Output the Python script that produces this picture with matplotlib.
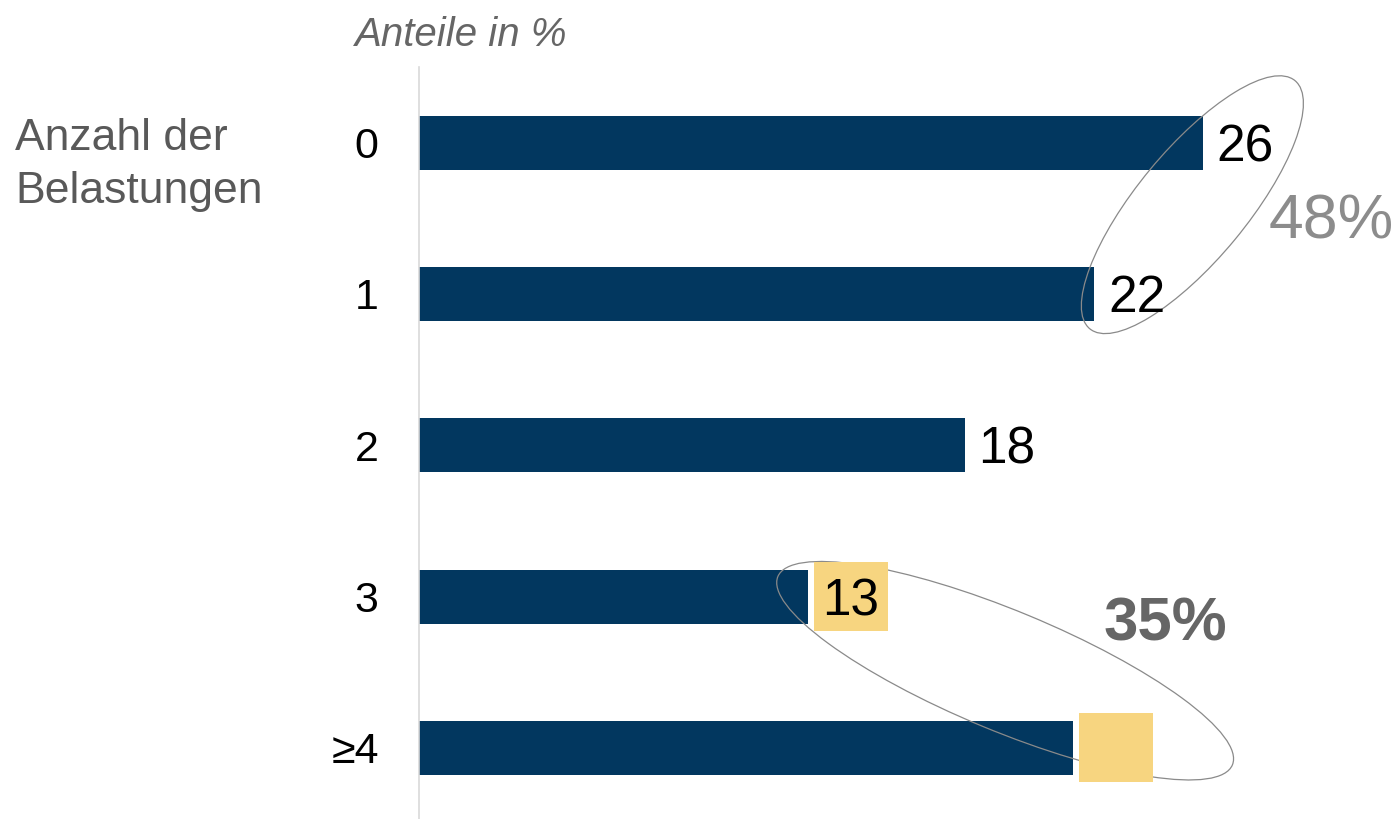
import matplotlib
matplotlib.use("Agg")
import matplotlib.pyplot as plt
from matplotlib.patches import Ellipse, Rectangle
from matplotlib.transforms import Affine2D, ScaledTranslation

plt.rcParams['font.family'] = ['Liberation Sans', 'DejaVu Sans']

categories = ["0", "1", "2", "3", "≥4"]
values = [26, 22.4, 18.1, 12.9, 21.7]
value_labels = ["26", "22", "18", "13", ""]
highlight = [False, False, False, True, True]

bar_color = "#02375F"
box_color = "#F7D580"

fig = plt.figure(figsize=(13.98, 8.19), dpi=100)
ax = fig.add_axes([419 / 1398, 0, 979 / 1398, 1 - 67 / 819])

y = list(range(len(categories)))
ax.barh(y, values, height=0.357, color=bar_color, zorder=2)
ax.set_xlim(0, 32.47)
ax.set_ylim(4.47, -0.5)
ax.set_yticks(y)
ax.set_yticklabels(categories, fontsize=31)
ax.tick_params(axis='y', length=0, pad=29)
ax.set_xticks([])
for s in ["top", "right", "bottom"]:
    ax.spines[s].set_visible(False)
ax.spines["left"].set_color("#d9d9d9")
ax.spines["left"].set_linewidth(1.2)


def px_at(cx, cy):
    # transform: pixel units, origin at a data position
    return Affine2D().scale(1 / 100.) + fig.dpi_scale_trans + \
        ScaledTranslation(cx, cy, ax.transData)


for yi, v, lab, hl in zip(y, values, value_labels, highlight):
    if hl:
        ax.add_patch(Rectangle((6, -34.5), 74, 69, transform=px_at(v, yi),
                               fc=box_color, ec="none", zorder=4))
    if lab:
        ax.annotate(lab, (v, yi), xytext=(10, -3.6), textcoords="offset points",
                    ha="left", va="center", fontsize=37, color="black", zorder=5)


def add_ellipse(cx, cy, a, b, angle):
    e = Ellipse((0, 0), 2 * a, 2 * b, angle=angle, transform=px_at(cx, cy),
                fill=False, ec="#8a8a8a", lw=0.9, zorder=3, clip_on=False)
    ax.add_patch(e)


add_ellipse(25.65, 0.41, 161, 55, 50.4)
add_ellipse(19.44, 3.49, 246, 60, -22.5)

ax.text(30.25, 0.522, "48%", fontsize=45, color="#8c8c8c",
        ha="center", va="center")
ax.text(24.74, 3.187, "35%", fontsize=44.5, color="#666666",
        fontweight="bold", ha="center", va="center")

fig.text(355 / 1398, 1 - 35 / 819, "Anteile in %", fontsize=29,
         style="italic", color="#666666", ha="left", va="center")
fig.text(15 / 1398, 1 - 165 / 819, "Anzahl der\nBelastungen", fontsize=32,
         color="#595959", ha="left", va="center", linespacing=1.4)

fig.savefig("out.png", dpi=100)
